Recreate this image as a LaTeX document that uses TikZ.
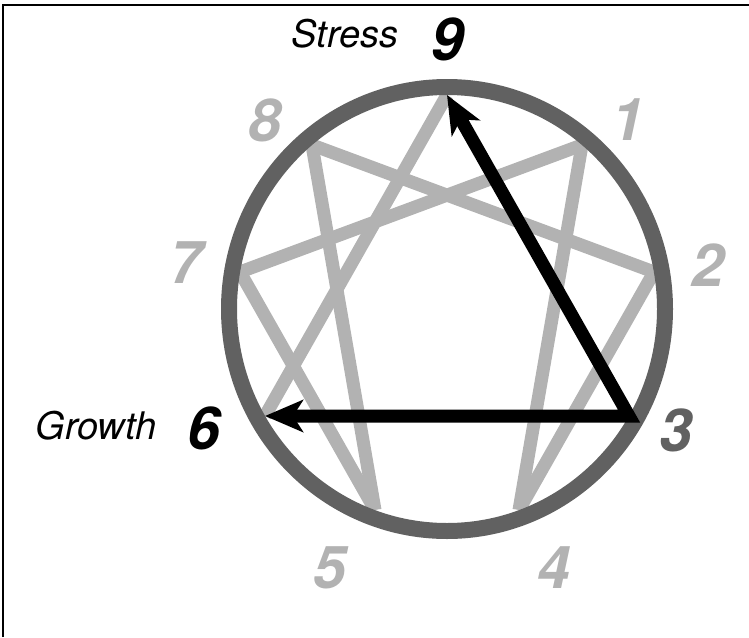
\documentclass[tikz,border=0pt]{standalone}
\usepackage{fontspec}
\setmainfont{TeX Gyre Heros}
\usepackage{tikz}
\usetikzlibrary{arrows.meta}

\definecolor{ringgray}{gray}{0.38}
\definecolor{stargray}{gray}{0.70}

\begin{document}
\begin{tikzpicture}[x=1pt,y=-1pt,
    starline/.style={stargray,line width=13pt},
    arrowline/.style={line width=13pt,arrows={Stealth[length=38pt,width=32pt,inset=10pt]-Stealth[length=38pt,width=32pt,inset=10pt]}},
    pnum/.style={inner sep=0pt,font=\fontsize{59}{62}\selectfont\bfseries\itshape},
    word/.style={inner sep=0pt,font=\fontsize{38}{40}\selectfont\itshape}]
    \useasboundingbox (0,0) rectangle (749,637);
    \draw[line width=2pt] (3,637) -- (3,5) -- (749,5);
    % points on the inside of the ring
    \coordinate (p9) at (447,95);
    \coordinate (p1) at (582,145);
    \coordinate (p2) at (654,272);
    \coordinate (p3) at (629,416);
    \coordinate (p4) at (519,510);
    \coordinate (p5) at (375,510);
    \coordinate (p6) at (265,416);
    \coordinate (p7) at (240,272);
    \coordinate (p8) at (312,145);
    % hexad and the open side of the triangle
    \draw[starline] (p1) -- (p4);
    \draw[starline] (p4) -- (p2);
    \draw[starline] (p2) -- (p8);
    \draw[starline] (p8) -- (p5);
    \draw[starline] (p5) -- (p7);
    \draw[starline] (p7) -- (p1);
    \draw[starline] (p9) -- (p6);
    \draw[ringgray,line width=16pt] (447,309) ellipse [x radius=218, y radius=222];
    % stress and growth
    \draw[arrowline] (p9) -- (p3) -- (p6);
    \node[pnum,stargray] (n1) at (628,120) {1};
    \node[pnum,stargray] (n2) at (708,265) {2};
    \node[pnum,ringgray] (n3) at (676,430) {3};
    \node[pnum,stargray] (n4) at (554,568) {4};
    \node[pnum,stargray] (n5) at (330,568) {5};
    \node[pnum] (n6) at (204,428) {6};
    \node[pnum,stargray] (n7) at (186,263) {7};
    \node[pnum,stargray] (n8) at (265,120) {8};
    \node[pnum] (n9) at (448,39) {9};
    \node[word] (stress) at (345,34) {Stress};
    \node[word] (growth) at (96,426) {Growth};
\end{tikzpicture}
\end{document}
